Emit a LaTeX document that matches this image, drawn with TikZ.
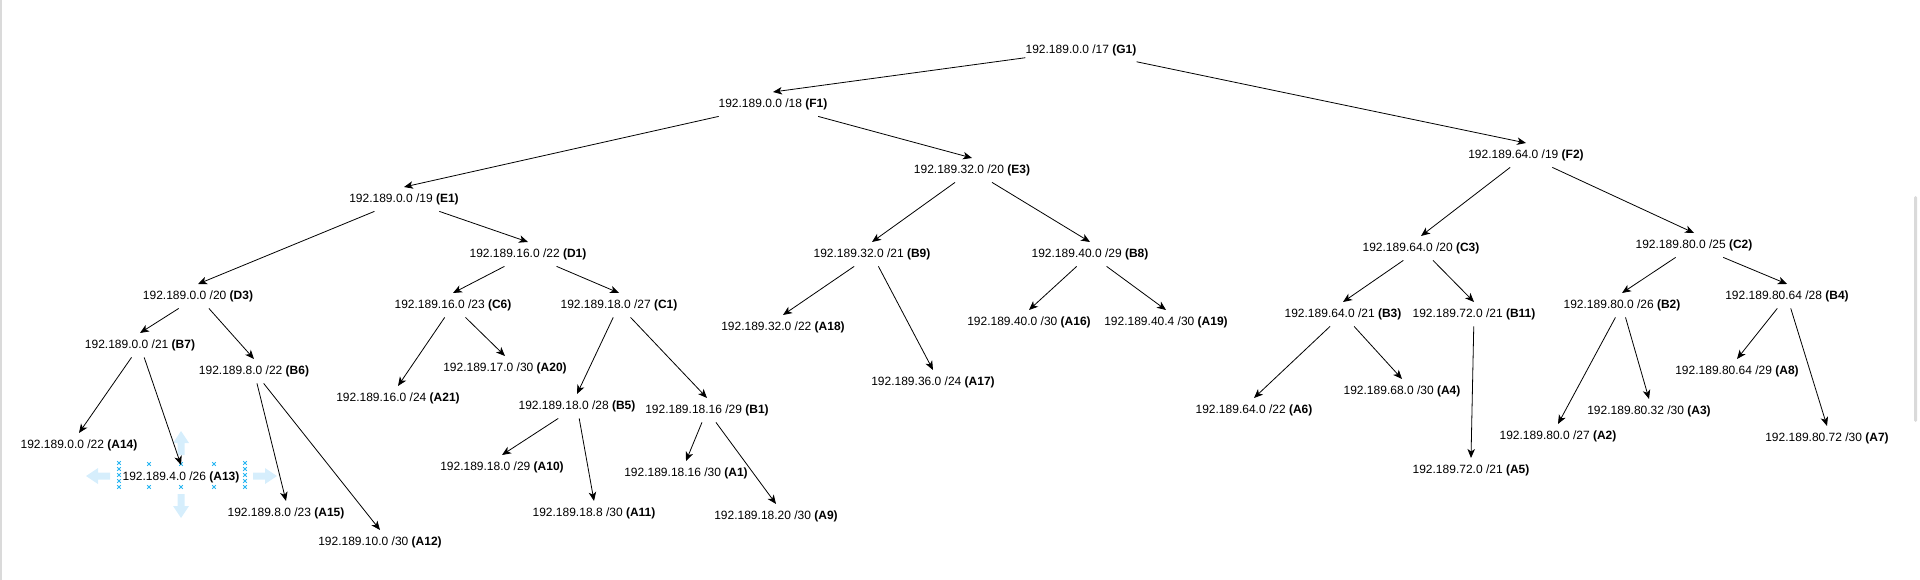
\documentclass[tikz,border=0pt]{standalone}
\usepackage{fontspec}
\setmainfont{Liberation Sans}
\usetikzlibrary{arrows.meta}
\definecolor{handleblue}{RGB}{41,182,242}
\definecolor{hoverblue}{RGB}{214,238,252}
\definecolor{framegray}{RGB}{218,218,218}

\begin{document}
\begin{tikzpicture}[x=1pt,y=-1pt]
  \tikzstyle{NetStyle}=[inner sep=0pt,minimum height=24pt,yshift=-1.2pt,font={\fontsize{12}{14}\selectfont}]
  \tikzstyle{EdgeStyle}=[-{Stealth[length=9pt,width=7.5pt,inset=2.5pt]},line width=0.8pt]
  \tikzstyle{HandleStyle}=[draw=handleblue,line width=0.8pt]
  \tikzstyle{HoverStyle}=[fill=hoverblue]
  % bounds
  \useasboundingbox (0,0) rectangle (1920,580);
  \fill[framegray] (0,0) rectangle (2,580);
  \fill[framegray,rounded corners=1.5pt] (1914,196) rectangle (1917,422);
  % selection of A13
  \foreach \cx/\cy/\ang in {98/476/180, 265/476/0, 181/443/90, 181/506/-90}
    \fill[HoverStyle,shift={(\cx,\cy)},rotate=\ang] (-12,-3.5) -- (0,-3.5) -- (0,-8) -- (12,0) -- (0,8) -- (0,3.5) -- (-12,3.5) -- cycle;
  \foreach \hy in {463,469,475,481,487} {
    \draw[HandleStyle] (119,\hy) +(-1.8,-1.8) -- +(1.8,1.8) +(-1.8,1.8) -- +(1.8,-1.8);
    \draw[HandleStyle] (245,\hy) +(-1.8,-1.8) -- +(1.8,1.8) +(-1.8,1.8) -- +(1.8,-1.8);
  }
  \foreach \hx in {149,181,214} {
    \draw[HandleStyle] (\hx,464) +(-1.8,-1.8) -- +(1.8,1.8) +(-1.8,1.8) -- +(1.8,-1.8);
    \draw[HandleStyle] (\hx,487) +(-1.8,-1.8) -- +(1.8,1.8) +(-1.8,1.8) -- +(1.8,-1.8);
  }
  % top levels
  \node[NetStyle] (g1) at (1081,49) {192.189.0.0 /17 \textbf{(G1)}};
  \node[NetStyle] (f1) at (773,103) {192.189.0.0 /18 \textbf{(F1)}};
  \node[NetStyle] (f2) at (1526,154) {192.189.64.0 /19 \textbf{(F2)}};
  \node[NetStyle] (e1) at (404,198) {192.189.0.0 /19 \textbf{(E1)}};
  \node[NetStyle] (e3) at (972,169) {192.189.32.0 /20 \textbf{(E3)}};
  % branch E1
  \node[NetStyle] (d3) at (198,295) {192.189.0.0 /20 \textbf{(D3)}};
  \node[NetStyle] (d1) at (528,253) {192.189.16.0 /22 \textbf{(D1)}};
  \node[NetStyle] (b7) at (140,344) {192.189.0.0 /21 \textbf{(B7)}};
  \node[NetStyle] (b6) at (254,370) {192.189.8.0 /22 \textbf{(B6)}};
  \node[NetStyle] (a14) at (79,444) {192.189.0.0 /22 \textbf{(A14)}};
  \node[NetStyle] (a13) at (181,476) {192.189.4.0 /26 \textbf{(A13)}};
  \node[NetStyle] (a15) at (286,512) {192.189.8.0 /23 \textbf{(A15)}};
  \node[NetStyle] (a12) at (380,541) {192.189.10.0 /30 \textbf{(A12)}};
  \node[NetStyle] (c6) at (453,304) {192.189.16.0 /23 \textbf{(C6)}};
  \node[NetStyle] (c1) at (619,304) {192.189.18.0 /27 \textbf{(C1)}};
  \node[NetStyle] (a21) at (398,397) {192.189.16.0 /24 \textbf{(A21)}};
  \node[NetStyle] (a20) at (505,367) {192.189.17.0 /30 \textbf{(A20)}};
  \node[NetStyle] (b5) at (577,405) {192.189.18.0 /28 \textbf{(B5)}};
  \node[NetStyle] (b1) at (707,409) {192.189.18.16 /29 \textbf{(B1)}};
  \node[NetStyle] (a10) at (502,466) {192.189.18.0 /29 \textbf{(A10)}};
  \node[NetStyle] (a11) at (594,512) {192.189.18.8 /30 \textbf{(A11)}};
  \node[NetStyle] (a1) at (686,472) {192.189.18.16 /30 \textbf{(A1)}};
  \node[NetStyle] (a9) at (776,515) {192.189.18.20 /30 \textbf{(A9)}};
  % branch E3
  \node[NetStyle] (b9) at (872,253) {192.189.32.0 /21 \textbf{(B9)}};
  \node[NetStyle] (b8) at (1090,253) {192.189.40.0 /29 \textbf{(B8)}};
  \node[NetStyle] (a18) at (783,326) {192.189.32.0 /22 \textbf{(A18)}};
  \node[NetStyle] (a17) at (933,381) {192.189.36.0 /24 \textbf{(A17)}};
  \node[NetStyle] (a16) at (1029,321) {192.189.40.0 /30 \textbf{(A16)}};
  \node[NetStyle] (a19) at (1166,321) {192.189.40.4 /30 \textbf{(A19)}};
  % branch F2
  \node[NetStyle] (c3) at (1421,247) {192.189.64.0 /20 \textbf{(C3)}};
  \node[NetStyle] (c2) at (1694,244) {192.189.80.0 /25 \textbf{(C2)}};
  \node[NetStyle] (b3) at (1343,313) {192.189.64.0 /21 \textbf{(B3)}};
  \node[NetStyle] (b11) at (1474,313) {192.189.72.0 /21 \textbf{(B11)}};
  \node[NetStyle] (a6) at (1254,409) {192.189.64.0 /22 \textbf{(A6)}};
  \node[NetStyle] (a4) at (1402,390) {192.189.68.0 /30 \textbf{(A4)}};
  \node[NetStyle] (a5) at (1471,469) {192.189.72.0 /21 \textbf{(A5)}};
  \node[NetStyle] (b2) at (1622,304) {192.189.80.0 /26 \textbf{(B2)}};
  \node[NetStyle] (b4) at (1787,295) {192.189.80.64 /28 \textbf{(B4)}};
  \node[NetStyle] (a2) at (1558,435) {192.189.80.0 /27 \textbf{(A2)}};
  \node[NetStyle] (a3) at (1649,410) {192.189.80.32 /30 \textbf{(A3)}};
  \node[NetStyle] (a8) at (1737,370) {192.189.80.64 /29 \textbf{(A8)}};
  \node[NetStyle] (a7) at (1827,437) {192.189.80.72 /30 \textbf{(A7)}};
  % edges
  \draw[EdgeStyle] (g1) -- (f1.north);
  \draw[EdgeStyle] (g1) -- (f2.north);
  \draw[EdgeStyle] (f1) -- (e1.north);
  \draw[EdgeStyle] (f1) -- (e3.north);
  \draw[EdgeStyle] (e1) -- (d3.north);
  \draw[EdgeStyle] (e1) -- (d1.north);
  \draw[EdgeStyle] (d3) -- (b7.north);
  \draw[EdgeStyle] (d3) -- (b6.north);
  \draw[EdgeStyle] (b7) -- (a14.north);
  \draw[EdgeStyle] (b7) -- (a13.north);
  \draw[EdgeStyle] (b6) -- (a15.north);
  \draw[EdgeStyle] (b6) -- (a12.north);
  \draw[EdgeStyle] (d1) -- (c6.north);
  \draw[EdgeStyle] (d1) -- (c1.north);
  \draw[EdgeStyle] (c6) -- (a21.north);
  \draw[EdgeStyle] (c6) -- (a20.north);
  \draw[EdgeStyle] (c1) -- (b5.north);
  \draw[EdgeStyle] (c1) -- (b1.north);
  \draw[EdgeStyle] (b5) -- (a10.north);
  \draw[EdgeStyle] (b5) -- (a11.north);
  \draw[EdgeStyle] (b1) -- (a1.north);
  \draw[EdgeStyle] (b1) -- (a9.north);
  \draw[EdgeStyle] (e3) -- (b9.north);
  \draw[EdgeStyle] (e3) -- (b8.north);
  \draw[EdgeStyle] (b9) -- (a18.north);
  \draw[EdgeStyle] (b9) -- (a17.north);
  \draw[EdgeStyle] (b8) -- (a16.north);
  \draw[EdgeStyle] (b8) -- (a19.north);
  \draw[EdgeStyle] (f2) -- (c3.north);
  \draw[EdgeStyle] (f2) -- (c2.north);
  \draw[EdgeStyle] (c3) -- (b3.north);
  \draw[EdgeStyle] (c3) -- (b11.north);
  \draw[EdgeStyle] (b3) -- (a6.north);
  \draw[EdgeStyle] (b3) -- (a4.north);
  \draw[EdgeStyle] (b11) -- (a5.north);
  \draw[EdgeStyle] (c2) -- (b2.north);
  \draw[EdgeStyle] (c2) -- (b4.north);
  \draw[EdgeStyle] (b2) -- (a2.north);
  \draw[EdgeStyle] (b2) -- (a3.north);
  \draw[EdgeStyle] (b4) -- (a8.north);
  \draw[EdgeStyle] (b4) -- (a7.north);
\end{tikzpicture}
\end{document}
